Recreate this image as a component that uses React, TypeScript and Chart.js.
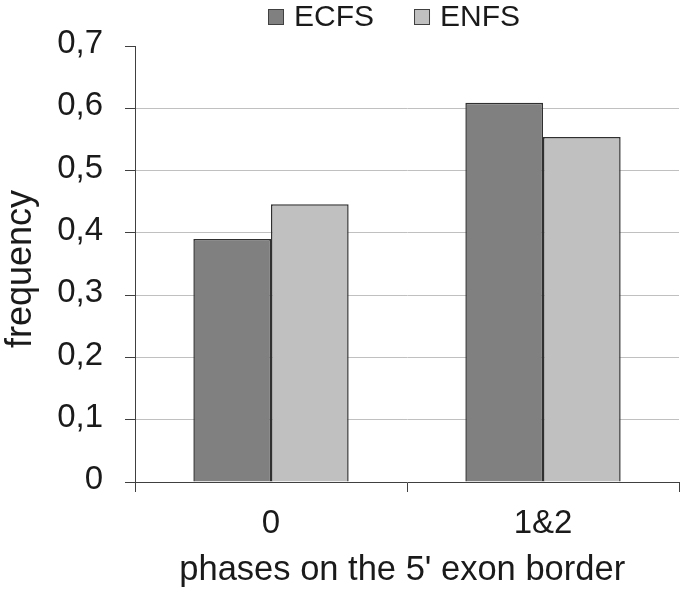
import React, { useEffect, useRef } from "react";
import { Chart, registerables } from "chart.js";

Chart.register(...registerables);

// ---- data ----
const categories = ["0", "1&2"];
const seriesNames = ["ECFS", "ENFS"];
const ecfsValues = [0.39, 0.609];
const enfsValues = [0.446, 0.554];
const seriesColors = ["#808080", "#c0c0c0"];
const yTickLabels = ["0", "0,1", "0,2", "0,3", "0,4", "0,5", "0,6", "0,7"];
const xTitle = "phases on the 5' exon border";
const yTitle = "frequency";

const FONT = "'Liberation Sans', Arial, sans-serif";
const TEXT = "#1a1a1a";
const AXIS = "#404040";
const BAR_EDGE = "#303030";

const legendPlugin = {
  id: "boxLegend",
  afterDraw(chart: any) {
    const ctx = chart.ctx;
    ctx.save();
    ctx.font = `30px ${FONT}`;
    ctx.textBaseline = "middle";
    ctx.textAlign = "left";
    const box = 16;
    const boxTop = 9;
    let x = 268;
    chart.data.datasets.forEach((ds: any) => {
      ctx.fillStyle = ds.backgroundColor;
      ctx.fillRect(x, boxTop, box, box);
      ctx.strokeStyle = AXIS;
      ctx.lineWidth = 1;
      ctx.strokeRect(x + 0.5, boxTop + 0.5, box - 1, box - 1);
      ctx.fillStyle = TEXT;
      ctx.fillText(ds.label, x + box + 10, boxTop + box / 2 + 0.5);
      x += box + 10 + ctx.measureText(ds.label).width + 40;
    });
    ctx.restore();
  },
};

export default function App() {
  const ref = useRef<HTMLCanvasElement | null>(null);

  useEffect(() => {
    if (!ref.current) return;
    const chart = new Chart(ref.current, {
      type: "bar",
      data: {
        labels: categories,
        datasets: [
          {
            label: seriesNames[0],
            data: ecfsValues,
            backgroundColor: seriesColors[0],
            borderColor: BAR_EDGE,
            borderWidth: 1.5,
            categoryPercentage: 0.571,
            barPercentage: 1,
          },
          {
            label: seriesNames[1],
            data: enfsValues,
            backgroundColor: seriesColors[1],
            borderColor: BAR_EDGE,
            borderWidth: 1.5,
            categoryPercentage: 0.571,
            barPercentage: 1,
          },
        ],
      },
      options: {
        responsive: false,
        animation: false,
        devicePixelRatio: 1,
        layout: { padding: { top: 46, right: 6, bottom: 0, left: 0 } },
        plugins: {
          legend: { display: false },
          tooltip: { enabled: false },
        },
        scales: {
          x: {
            grid: {
              offset: true,
              drawOnChartArea: false,
              drawTicks: true,
              tickLength: 10,
              tickColor: AXIS,
              color: AXIS,
            },
            border: { color: AXIS, width: 1 },
            ticks: {
              font: { family: FONT, size: 33 },
              color: TEXT,
              padding: 12,
            },
            title: {
              display: true,
              text: xTitle + " ",
              font: { family: FONT, size: 34.5, lineHeight: 1 },
              color: TEXT,
              padding: { top: 0, bottom: 11 },
            },
            afterFit: (s: any) => {
              s.height = 117;
            },
          },
          y: {
            min: 0,
            max: 0.7,
            ticks: {
              stepSize: 0.1,
              font: { family: FONT, size: 33 },
              color: TEXT,
              padding: 22,
              labelOffset: -2,
              callback: (_v: any, i: number) => yTickLabels[i],
            },
            grid: {
              color: (c: any) =>
                c.index === 0 || c.index === yTickLabels.length - 1
                  ? "rgba(0,0,0,0)"
                  : "#c0c0c0",
              tickColor: AXIS,
              tickLength: 10,
              lineWidth: 1,
            },
            border: { color: AXIS, width: 1 },
            title: {
              display: true,
              text: yTitle + " ",
              font: { family: FONT, size: 36, lineHeight: 1 },
              color: TEXT,
              padding: { top: 3, bottom: 0 },
            },
            afterFit: (s: any) => {
              s.width = 135;
            },
          },
        },
      },
      plugins: [legendPlugin],
    });
    return () => chart.destroy();
  }, []);

  return (
    <div style={{ position: "fixed", left: 0, top: 0, width: 685, height: 599, background: "#fff" }}>
      <canvas ref={ref} width={685} height={599} style={{ display: "block" }} />
    </div>
  );
}
